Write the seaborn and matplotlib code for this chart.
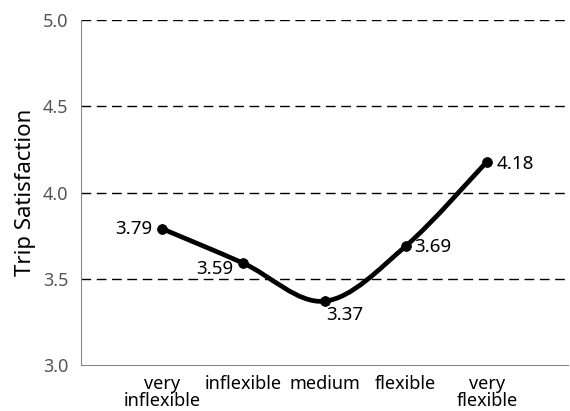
import seaborn as sns
import matplotlib.pyplot as plt
import pandas as pd
from matplotlib.path import Path
from matplotlib.patches import PathPatch

# dados do grafico
categorias = ['very\ninflexible', 'inflexible', 'medium', 'flexible', 'very\nflexible']
satisfacao = [3.79, 3.59, 3.37, 3.69, 4.18]
rotulos = ['3.79', '3.59', '3.37', '3.69', '4.18']

sns.set_style('white')
plt.rcParams['font.family'] = ['Noto Sans', 'DejaVu Sans']

base = pd.DataFrame({'pos': range(len(categorias)), 'valor': satisfacao})

fig = plt.figure(figsize=(5.7, 4.11), dpi=100)
ax = fig.add_axes([0.142, 0.112, 0.855, 0.839])

# linha suavizada (estilo Excel) via curvas de Bezier entre os pontos
xs = list(base['pos'])
ys = list(base['valor'])
verts = [(xs[0], ys[0])]
codes = [Path.MOVETO]
n = len(xs)
for i in range(n - 1):
    x0, y0 = xs[max(i - 1, 0)], ys[max(i - 1, 0)]
    x1, y1 = xs[i], ys[i]
    x2, y2 = xs[i + 1], ys[i + 1]
    x3, y3 = xs[min(i + 2, n - 1)], ys[min(i + 2, n - 1)]
    c1 = (x1 + (x2 - x0) / 6, y1 + (y2 - y0) / 6)
    c2 = (x2 - (x3 - x1) / 6, y2 - (y3 - y1) / 6)
    verts += [c1, c2, (x2, y2)]
    codes += [Path.CURVE4] * 3
ax.add_patch(PathPatch(Path(verts, codes), facecolor='none', edgecolor='black',
                       lw=3.4, capstyle='round', joinstyle='round', zorder=3))

sns.scatterplot(data=base, x='pos', y='valor', color='black', s=50,
                edgecolor='black', zorder=4, ax=ax)

# rotulos dos valores
desloc = [(-7, 0, 'right', 'center'), (-7, -4, 'right', 'center'),
          (1, -10, 'left', 'center'), (6, -1, 'left', 'center'),
          (7, -2, 'left', 'center')]
for i, (dx, dy, ha, va) in enumerate(desloc):
    ax.annotate(rotulos[i], (xs[i], ys[i]), xytext=(dx, dy), textcoords='offset points',
                ha=ha, va=va, fontsize=13.5, color='black')

ax.set_xlim(-1, 5)
ax.set_ylim(3.0, 5.0)
ax.set_yticks([3.0, 3.5, 4.0, 4.5, 5.0])
ax.set_yticklabels(['3.0', '3.5', '4.0', '4.5', '5.0'])
ax.set_xticks([0, 1, 2, 3, 4, 5])
ax.set_xticklabels(categorias + [''])
ax.tick_params(axis='x', length=5, width=1, color='#888888', labelsize=13,
               labelcolor='black', direction='out', pad=2)
ax.tick_params(axis='y', length=0, labelsize=13, labelcolor='#555555', pad=9)
for t in ax.get_xticklabels():
    t.set_linespacing(0.95)

for y in [3.5, 4.0, 4.5, 5.0]:
    ax.axhline(y, color='black', lw=1, ls=(0, (7, 4)), zorder=1)

ax.set_xlabel('')
ax.set_ylabel('Trip Satisfaction', fontsize=16, color='black', labelpad=5)
sns.despine(ax=ax, top=True, right=True)
ax.spines['left'].set_color('#888888')
ax.spines['bottom'].set_color('#888888')

fig.savefig('out.png', dpi=100)
